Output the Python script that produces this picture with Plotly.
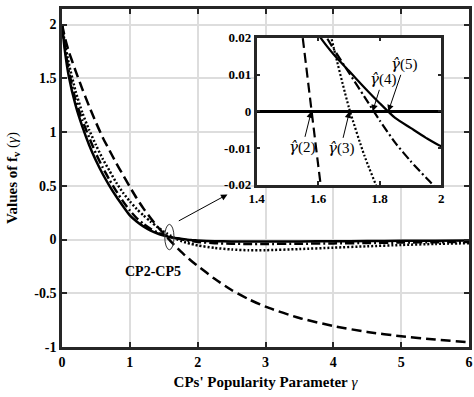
import plotly.graph_objects as go

gamma = [0, 0.05, 0.1, 0.2, 0.3, 0.4, 0.5, 0.6, 0.7, 0.8, 0.9, 1.0, 1.1, 1.2, 1.3, 1.4, 1.5,
         1.55, 1.6, 1.65, 1.7, 1.75, 1.8, 1.85, 1.9, 1.95, 2.0, 2.25, 2.5, 2.75, 3.0, 3.5,
         4.0, 4.5, 5.0, 5.5, 6.0]

cp2 = [2.0, 1.86, 1.75, 1.57, 1.40, 1.24, 1.09, 0.95, 0.83, 0.71, 0.60, 0.49, 0.385, 0.29,
       0.205, 0.125, 0.055, 0.02, -0.0145, -0.048, -0.08, -0.111, -0.14, -0.168, -0.195,
       -0.221, -0.245, -0.365, -0.47, -0.555, -0.625, -0.73, -0.805, -0.86, -0.90, -0.93, -0.955]

cp3 = [2.0, 1.80, 1.64, 1.38, 1.18, 1.02, 0.88, 0.75, 0.64, 0.53, 0.435, 0.355, 0.285, 0.225,
       0.17, 0.12, 0.075, 0.055, 0.036, 0.0175, 0.001, -0.012, -0.0225, -0.032, -0.0405,
       -0.048, -0.055, -0.078, -0.093, -0.1, -0.099, -0.089, -0.076, -0.063, -0.051, -0.041, -0.034]

cp4 = [2.0, 1.76, 1.57, 1.30, 1.11, 0.95, 0.80, 0.67, 0.555, 0.45, 0.355, 0.27, 0.2, 0.146,
       0.102, 0.068, 0.043, 0.033, 0.024, 0.017, 0.0105, 0.004, -0.0025, -0.0085, -0.0135,
       -0.018, -0.022, -0.034, -0.039, -0.041, -0.041, -0.039, -0.036, -0.032, -0.028, -0.025, -0.022]

cp5 = [2.0, 1.72, 1.52, 1.25, 1.05, 0.88, 0.735, 0.61, 0.50, 0.40, 0.31, 0.225, 0.168, 0.122,
       0.086, 0.058, 0.037, 0.029, 0.021, 0.0155, 0.011, 0.0065, 0.0022, -0.0018, -0.0045,
       -0.0072, -0.0095, -0.015, -0.018, -0.019, -0.019, -0.018, -0.016, -0.014, -0.012, -0.0105, -0.009]

series = [("CP2", cp2, "10px,5px"), ("CP3", cp3, "2px,2px"),
          ("CP4", cp4, "9px,3px,2px,3px"), ("CP5", cp5, "solid")]

# inset root labels: (index, gamma at root, text offset px)
roots = [("2", 1.578, -9, 36), ("3", 1.702, -9, 37),
         ("4", 1.777, 10, -32), ("5", 1.828, 16, -47)]

FONT = "Liberation Serif"
fig = go.Figure()

for name, vals, dash in series:
    fig.add_trace(go.Scatter(x=gamma, y=vals, mode="lines", name=name,
                             line=dict(color="black", width=2.5, dash=dash, shape="spline", smoothing=0.6),
                             xaxis="x", yaxis="y", showlegend=False))
for name, vals, dash in series:
    fig.add_trace(go.Scatter(x=gamma, y=vals, mode="lines", name=name,
                             line=dict(color="black", width=2.2, dash=dash, shape="spline", smoothing=0.6),
                             xaxis="x2", yaxis="y2", showlegend=False, cliponaxis=True))

axcol = "#262626"
fig.update_layout(
    width=474, height=397,
    margin=dict(l=62, r=2, t=5, b=50),
    paper_bgcolor="white", plot_bgcolor="white",
    font=dict(family=FONT, color="black"),
    xaxis=dict(domain=[0, 1], range=[0, 6], tickvals=[0, 1, 2, 3, 4, 5, 6],
               ticks="inside", ticklen=5, tickwidth=2, tickcolor=axcol,
               showline=True, linewidth=2.5, linecolor=axcol, mirror="allticks",
               showgrid=True, gridcolor="#dddddd", gridwidth=2, zeroline=False,
               tickfont=dict(family=FONT, size=14, weight="bold"),
               title=dict(text="<b>CPs' Popularity Parameter</b> <i>γ</i>",
                          font=dict(family=FONT, size=15), standoff=8)),
    yaxis=dict(domain=[0, 1], range=[-1, 2.145], tickvals=[-1, -0.5, 0, 0.5, 1, 1.5, 2],
               ticktext=["-1", "-0.5", "0", "0.5", "1", "1.5", "2"],
               ticks="inside", ticklen=5, tickwidth=2, tickcolor=axcol,
               showline=True, linewidth=2.5, linecolor=axcol, mirror="allticks",
               showgrid=True, gridcolor="#dddddd", gridwidth=2, zeroline=False,
               tickfont=dict(family=FONT, size=14, weight="bold"),
               title=dict(text="<b>Values of f</b><sub><b>v</b></sub> (<i>γ</i>)",
                          font=dict(family=FONT, size=15), standoff=14)),
    xaxis2=dict(domain=[0.478, 0.932], range=[1.4, 2.0], anchor="y2",
                tickvals=[1.4, 1.6, 1.8, 2.0], ticktext=["1.4", "1.6", "1.8", "2"],
                ticks="inside", ticklen=4, tickwidth=2, tickcolor=axcol,
                showline=True, linewidth=2.5, linecolor=axcol, mirror="allticks",
                showgrid=False, zeroline=False,
                tickfont=dict(family=FONT, size=13, weight="bold")),
    yaxis2=dict(domain=[0.4795, 0.915], range=[-0.02, 0.02], anchor="x2",
                tickvals=[-0.02, -0.01, 0, 0.01, 0.02],
                ticktext=["-0.02", "-0.01", "0", "0.01", "0.02"],
                ticks="inside", ticklen=4, tickwidth=2, tickcolor=axcol,
                showline=True, linewidth=2.5, linecolor=axcol, mirror="allticks",
                showgrid=False, zeroline=True, zerolinecolor="black", zerolinewidth=2.5,
                tickfont=dict(family=FONT, size=13, weight="bold")),
)

fig.add_shape(type="circle", xref="x", yref="y", x0=1.515, x1=1.651, y0=-0.095, y1=0.141,
              line=dict(color="#333333", width=1))

fig.add_annotation(xref="x", yref="y", axref="x", ayref="y", x=2.44, y=0.42, ax=1.70, ay=0.166,
                   text="", showarrow=True, arrowhead=2, arrowsize=1.3, arrowwidth=1, arrowcolor="black")
fig.add_annotation(xref="x", yref="y", x=1.34, y=-0.295, text="<b>CP2-CP5</b>", showarrow=False,
                   font=dict(family=FONT, size=14, color="black"))

for idx, gx, ax, ay in roots:
    label = '<span style="font-family:DejaVu Serif"><i>γ̂</i></span>(' + idx + ")"
    fig.add_annotation(xref="x2", yref="y2", x=gx, y=0, text=label,
                       showarrow=True, ax=ax, ay=ay, arrowhead=2, arrowsize=1.3, arrowwidth=1,
                       arrowcolor="black", standoff=0,
                       font=dict(family=FONT, size=15, color="black"))

fig.write_html("out.html")
